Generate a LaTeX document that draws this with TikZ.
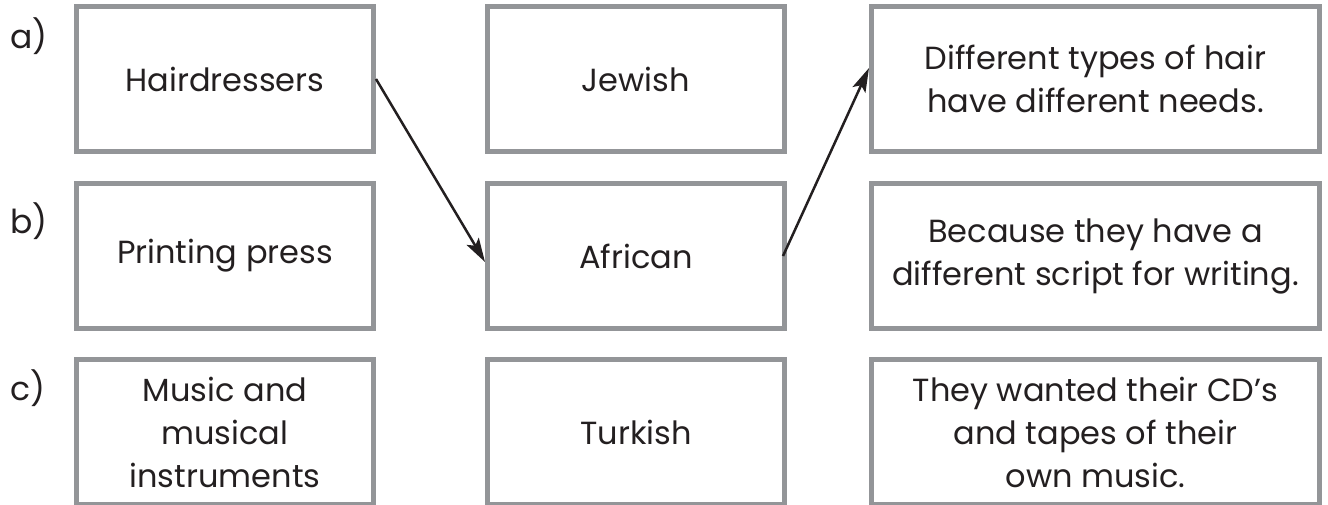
\documentclass[tikz,border=0pt]{standalone}
\usepackage{fontspec}
\setmainfont{Poppins}
\usetikzlibrary{arrows.meta}
\definecolor{boxgray}{HTML}{939598}
\definecolor{ink}{HTML}{231F20}
\tikzset{
  card/.style={draw=boxgray, line width=5pt, fill=white, align=center, text=ink,
    minimum height=145pt, inner sep=0pt, font=\fontsize{32}{43}\selectfont},
  narrow/.style={card, minimum width=297pt},
  wide/.style={card, minimum width=448pt},
  lbl/.style={anchor=base west, inner sep=0pt, text=ink, font=\fontsize{33}{40}\selectfont},
  link/.style={draw=ink, line width=2.5pt, -{Stealth[length=24pt,width=14pt,inset=5pt]}}
}
\begin{document}
\begin{tikzpicture}[x=1pt,y=-1pt]
\useasboundingbox (0,0) rectangle (1328,504);
\node[lbl] (la) at (10,48) {a)};
\node[lbl] (lb) at (10,233) {b)};
\node[lbl] (lc) at (10,400) {c)};
\node[narrow] (hair) at (225,79) {Hairdressers};
\node[narrow] (print) at (225,256) {Printing press};
\node[narrow] (music) at (225,432) {Music and\\musical\\instruments};
\node[narrow] (jew) at (636,79) {Jewish};
\node[narrow] (afr) at (636,256) {African};
\node[narrow] (turk) at (636,432) {Turkish};
\node[wide] (ra) at (1095.5,79) {Different types of hair\\have different needs.};
\node[wide] (rb) at (1095.5,256) {Because they have a\\different script for writing.};
\node[wide] (rc) at (1095.5,432) {They wanted their CD’s\\and tapes of their\\own music.};
\draw[link] (hair.east) -- ([yshift=-6pt]afr.west);
\draw[link] ([xshift=-4pt]afr.east) -- ([yshift=11pt]ra.west);
\end{tikzpicture}
\end{document}
